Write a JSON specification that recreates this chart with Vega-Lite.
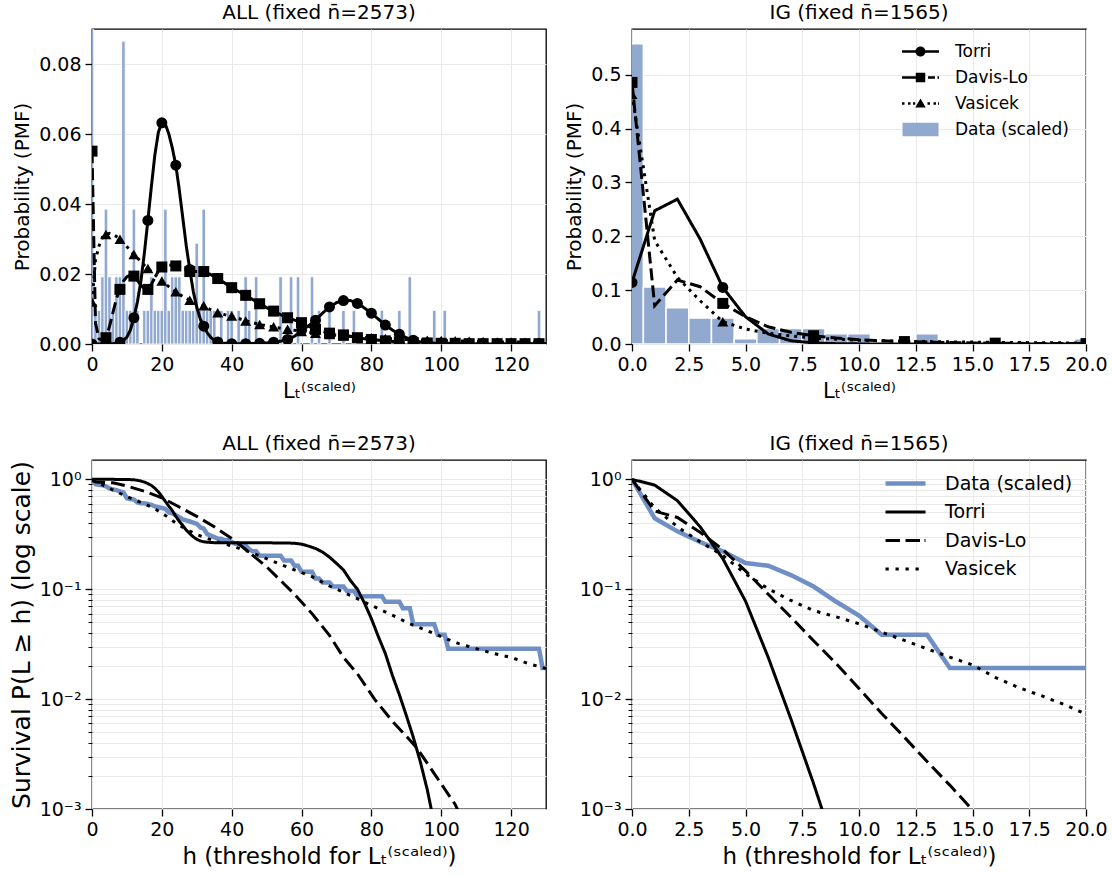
{
"$schema": "https://vega.github.io/schema/vega-lite/v6.json",
"background": "white",
"padding": {"left": 8, "top": 2, "right": 5, "bottom": 5},
"bounds": "flush",
"columns": 2,
"align": "each",
"spacing": {"row": 116, "column": 86},
"config": {
  "font": "DejaVu Sans",
  "view": {"stroke": "black", "strokeWidth": 1.3},
  "axis": {"labelFont": "DejaVu Sans", "labelFontSize": 19, "labelColor": "black", "labelFlush": false, "labelOverlap": false, "titleFont": "DejaVu Sans", "titleFontWeight": "normal", "titleColor": "black", "titleFontSize": 20, "tickColor": "black", "tickSize": 7, "tickWidth": 1.3, "domain": false, "gridColor": "#e9e9e9", "gridWidth": 1, "labelPadding": 4, "titlePadding": 6},
  "title": {"font": "DejaVu Sans", "fontSize": 20, "fontWeight": "normal", "color": "black", "offset": 6},
  "legend": {"labelFont": "DejaVu Sans", "labelColor": "black", "padding": 0, "labelLimit": 400}
},
"resolve": {"scale": {"x": "independent", "y": "independent", "strokeDash": "independent", "shape": "independent", "color": "independent"}, "legend": {"strokeDash": "independent", "shape": "independent", "color": "independent"}},
"datasets": {
  "hist_all": [
    {"L":0,"lo":-0.5,"hi":0.5,"p":0.0962},{"L":1,"lo":0.5,"hi":1.5,"p":0.0096},{"L":2,"lo":1.5,"hi":2.5,"p":0.0096},{"L":3,"lo":2.5,"hi":3.5,"p":0.0192},{"L":4,"lo":3.5,"hi":4.5,"p":0.0385},{"L":5,"lo":4.5,"hi":5.5,"p":0.0192},{"L":6,"lo":5.5,"hi":6.5,"p":0.0096},{"L":7,"lo":6.5,"hi":7.5,"p":0.0192},{"L":8,"lo":7.5,"hi":8.5,"p":0.0192},{"L":9,"lo":8.5,"hi":9.5,"p":0.0865},{"L":10,"lo":9.5,"hi":10.5,"p":0.0096},{"L":11,"lo":10.5,"hi":11.5,"p":0.0096},{"L":12,"lo":11.5,"hi":12.5,"p":0.0385},{"L":13,"lo":12.5,"hi":13.5,"p":0.0096},{"L":15,"lo":14.5,"hi":15.5,"p":0.0096},{"L":16,"lo":15.5,"hi":16.5,"p":0.0096},{"L":17,"lo":16.5,"hi":17.5,"p":0.0192},{"L":18,"lo":17.5,"hi":18.5,"p":0.0096},{"L":19,"lo":18.5,"hi":19.5,"p":0.0096},{"L":20,"lo":19.5,"hi":20.5,"p":0.0096},{"L":21,"lo":20.5,"hi":21.5,"p":0.0385},{"L":22,"lo":21.5,"hi":22.5,"p":0.0096},{"L":23,"lo":22.5,"hi":23.5,"p":0.0192},{"L":24,"lo":23.5,"hi":24.5,"p":0.0192},{"L":25,"lo":24.5,"hi":25.5,"p":0.0192},{"L":26,"lo":25.5,"hi":26.5,"p":0.0096},{"L":27,"lo":26.5,"hi":27.5,"p":0.0096},{"L":28,"lo":27.5,"hi":28.5,"p":0.0096},{"L":29,"lo":28.5,"hi":29.5,"p":0.0096},{"L":30,"lo":29.5,"hi":30.5,"p":0.0288},{"L":31,"lo":30.5,"hi":31.5,"p":0.0096},{"L":32,"lo":31.5,"hi":32.5,"p":0.0385},{"L":33,"lo":32.5,"hi":33.5,"p":0.0096},{"L":34,"lo":33.5,"hi":34.5,"p":0.0096},{"L":35,"lo":34.5,"hi":35.5,"p":0.0096},{"L":37,"lo":36.5,"hi":37.5,"p":0.0096},{"L":39,"lo":38.5,"hi":39.5,"p":0.0096},{"L":40,"lo":39.5,"hi":40.5,"p":0.0096},{"L":42,"lo":41.5,"hi":42.5,"p":0.0096},{"L":44,"lo":43.5,"hi":44.5,"p":0.0192},{"L":45,"lo":44.5,"hi":45.5,"p":0.0096},{"L":47,"lo":46.5,"hi":47.5,"p":0.0192},{"L":54,"lo":53.5,"hi":54.5,"p":0.0192},{"L":57,"lo":56.5,"hi":57.5,"p":0.0192},{"L":59,"lo":58.5,"hi":59.5,"p":0.0192},{"L":63,"lo":62.5,"hi":63.5,"p":0.0192},{"L":65,"lo":64.5,"hi":65.5,"p":0.0096},{"L":68,"lo":67.5,"hi":68.5,"p":0.0096},{"L":72,"lo":71.5,"hi":72.5,"p":0.0096},{"L":75,"lo":74.5,"hi":75.5,"p":0.0096},{"L":83,"lo":82.5,"hi":83.5,"p":0.0096},{"L":88,"lo":87.5,"hi":88.5,"p":0.0096},{"L":91,"lo":90.5,"hi":91.5,"p":0.0192},{"L":98,"lo":97.5,"hi":98.5,"p":0.0096},{"L":101,"lo":100.5,"hi":101.5,"p":0.0096},{"L":128,"lo":127.5,"hi":128.5,"p":0.0096}
  ],
  "hist_ig": [
    {"L":0,"lo":-0.5,"hi":0.5,"p":0.5577},{"L":1,"lo":0.5,"hi":1.5,"p":0.1058},{"L":2,"lo":1.5,"hi":2.5,"p":0.0673},{"L":3,"lo":2.5,"hi":3.5,"p":0.0481},{"L":4,"lo":3.5,"hi":4.5,"p":0.0481},{"L":5,"lo":4.5,"hi":5.5,"p":0.0096},{"L":6,"lo":5.5,"hi":6.5,"p":0.0288},{"L":7,"lo":6.5,"hi":7.5,"p":0.0288},{"L":8,"lo":7.5,"hi":8.5,"p":0.0288},{"L":9,"lo":8.5,"hi":9.5,"p":0.0192},{"L":10,"lo":9.5,"hi":10.5,"p":0.0192},{"L":13,"lo":12.5,"hi":13.5,"p":0.0192},{"L":20,"lo":19.5,"hi":20.5,"p":0.0096}
  ],
  "pmf_all": [
    {"model":"Torri","L":0,"p":0},{"model":"Torri","L":1,"p":0},{"model":"Torri","L":2,"p":0},{"model":"Torri","L":3,"p":0},{"model":"Torri","L":4,"p":0},{"model":"Torri","L":5,"p":0},{"model":"Torri","L":6,"p":0.0001},{"model":"Torri","L":7,"p":0.0002},{"model":"Torri","L":8,"p":0.0005},{"model":"Torri","L":9,"p":0.001},{"model":"Torri","L":10,"p":0.002},{"model":"Torri","L":11,"p":0.004},{"model":"Torri","L":12,"p":0.0075},{"model":"Torri","L":13,"p":0.012},{"model":"Torri","L":14,"p":0.018},{"model":"Torri","L":15,"p":0.026},{"model":"Torri","L":16,"p":0.0353},{"model":"Torri","L":17,"p":0.045},{"model":"Torri","L":18,"p":0.054},{"model":"Torri","L":19,"p":0.0605},{"model":"Torri","L":20,"p":0.0632},{"model":"Torri","L":21,"p":0.0628},{"model":"Torri","L":22,"p":0.06},{"model":"Torri","L":23,"p":0.056},{"model":"Torri","L":24,"p":0.0511},{"model":"Torri","L":25,"p":0.044},{"model":"Torri","L":26,"p":0.036},{"model":"Torri","L":27,"p":0.028},{"model":"Torri","L":28,"p":0.0213},{"model":"Torri","L":29,"p":0.015},{"model":"Torri","L":30,"p":0.0105},{"model":"Torri","L":31,"p":0.0072},{"model":"Torri","L":32,"p":0.0051},{"model":"Torri","L":33,"p":0.0032},{"model":"Torri","L":34,"p":0.0019},{"model":"Torri","L":35,"p":0.0011},{"model":"Torri","L":36,"p":0.0006},{"model":"Torri","L":37,"p":0.0003},{"model":"Torri","L":38,"p":0.0002},{"model":"Torri","L":40,"p":0.0001},{"model":"Torri","L":44,"p":0.0001},{"model":"Torri","L":48,"p":0.0002},{"model":"Torri","L":50,"p":0.0003},{"model":"Torri","L":52,"p":0.0005},{"model":"Torri","L":54,"p":0.0008},{"model":"Torri","L":56,"p":0.0013},{"model":"Torri","L":58,"p":0.0022},{"model":"Torri","L":60,"p":0.0039},{"model":"Torri","L":62,"p":0.0052},{"model":"Torri","L":64,"p":0.0068},{"model":"Torri","L":66,"p":0.0088},{"model":"Torri","L":68,"p":0.0106},{"model":"Torri","L":70,"p":0.0118},{"model":"Torri","L":72,"p":0.0124},{"model":"Torri","L":74,"p":0.0124},{"model":"Torri","L":76,"p":0.0116},{"model":"Torri","L":78,"p":0.0103},{"model":"Torri","L":80,"p":0.0088},{"model":"Torri","L":82,"p":0.0071},{"model":"Torri","L":84,"p":0.0054},{"model":"Torri","L":86,"p":0.004},{"model":"Torri","L":88,"p":0.0028},{"model":"Torri","L":90,"p":0.0018},{"model":"Torri","L":92,"p":0.0011},{"model":"Torri","L":94,"p":0.0006},{"model":"Torri","L":96,"p":0.0003},{"model":"Torri","L":100,"p":0},{"model":"Torri","L":104,"p":0},{"model":"Torri","L":108,"p":0},{"model":"Torri","L":112,"p":0},{"model":"Torri","L":116,"p":0},{"model":"Torri","L":120,"p":0},{"model":"Torri","L":124,"p":0},{"model":"Torri","L":128,"p":0},{"model":"Torri","L":130,"p":0},
    {"model":"Davis-Lo","L":0,"p":0.0551},{"model":"Davis-Lo","L":1,"p":0.006},{"model":"Davis-Lo","L":2,"p":0.0015},{"model":"Davis-Lo","L":3,"p":0.001},{"model":"Davis-Lo","L":4,"p":0.0018},{"model":"Davis-Lo","L":5,"p":0.005},{"model":"Davis-Lo","L":6,"p":0.009},{"model":"Davis-Lo","L":7,"p":0.013},{"model":"Davis-Lo","L":8,"p":0.0156},{"model":"Davis-Lo","L":9,"p":0.018},{"model":"Davis-Lo","L":10,"p":0.0192},{"model":"Davis-Lo","L":11,"p":0.0196},{"model":"Davis-Lo","L":12,"p":0.0194},{"model":"Davis-Lo","L":13,"p":0.0182},{"model":"Davis-Lo","L":14,"p":0.0168},{"model":"Davis-Lo","L":15,"p":0.0158},{"model":"Davis-Lo","L":16,"p":0.0156},{"model":"Davis-Lo","L":17,"p":0.017},{"model":"Davis-Lo","L":18,"p":0.019},{"model":"Davis-Lo","L":19,"p":0.0208},{"model":"Davis-Lo","L":20,"p":0.022},{"model":"Davis-Lo","L":21,"p":0.0225},{"model":"Davis-Lo","L":22,"p":0.0226},{"model":"Davis-Lo","L":23,"p":0.0225},{"model":"Davis-Lo","L":24,"p":0.0223},{"model":"Davis-Lo","L":26,"p":0.0215},{"model":"Davis-Lo","L":28,"p":0.0207},{"model":"Davis-Lo","L":30,"p":0.0207},{"model":"Davis-Lo","L":32,"p":0.0207},{"model":"Davis-Lo","L":34,"p":0.0198},{"model":"Davis-Lo","L":36,"p":0.0187},{"model":"Davis-Lo","L":38,"p":0.0174},{"model":"Davis-Lo","L":40,"p":0.0161},{"model":"Davis-Lo","L":42,"p":0.015},{"model":"Davis-Lo","L":44,"p":0.0139},{"model":"Davis-Lo","L":46,"p":0.0127},{"model":"Davis-Lo","L":48,"p":0.0115},{"model":"Davis-Lo","L":50,"p":0.0104},{"model":"Davis-Lo","L":52,"p":0.0094},{"model":"Davis-Lo","L":54,"p":0.0084},{"model":"Davis-Lo","L":56,"p":0.0075},{"model":"Davis-Lo","L":58,"p":0.0068},{"model":"Davis-Lo","L":60,"p":0.0061},{"model":"Davis-Lo","L":62,"p":0.0051},{"model":"Davis-Lo","L":64,"p":0.0042},{"model":"Davis-Lo","L":66,"p":0.0036},{"model":"Davis-Lo","L":68,"p":0.0031},{"model":"Davis-Lo","L":70,"p":0.0028},{"model":"Davis-Lo","L":72,"p":0.0026},{"model":"Davis-Lo","L":74,"p":0.0022},{"model":"Davis-Lo","L":76,"p":0.0018},{"model":"Davis-Lo","L":78,"p":0.0015},{"model":"Davis-Lo","L":80,"p":0.0013},{"model":"Davis-Lo","L":84,"p":0.0009},{"model":"Davis-Lo","L":88,"p":0.0006},{"model":"Davis-Lo","L":92,"p":0.0004},{"model":"Davis-Lo","L":96,"p":0.0003},{"model":"Davis-Lo","L":100,"p":0.0002},{"model":"Davis-Lo","L":104,"p":0.0002},{"model":"Davis-Lo","L":108,"p":0.0001},{"model":"Davis-Lo","L":112,"p":0.0001},{"model":"Davis-Lo","L":116,"p":0.0001},{"model":"Davis-Lo","L":120,"p":0.0001},{"model":"Davis-Lo","L":124,"p":0.0001},{"model":"Davis-Lo","L":128,"p":0.0001},{"model":"Davis-Lo","L":130,"p":0.0001},
    {"model":"Vasicek","L":0,"p":0.012},{"model":"Vasicek","L":1,"p":0.024},{"model":"Vasicek","L":2,"p":0.028},{"model":"Vasicek","L":3,"p":0.0305},{"model":"Vasicek","L":4,"p":0.0313},{"model":"Vasicek","L":5,"p":0.0316},{"model":"Vasicek","L":6,"p":0.0313},{"model":"Vasicek","L":7,"p":0.0307},{"model":"Vasicek","L":8,"p":0.0299},{"model":"Vasicek","L":9,"p":0.0289},{"model":"Vasicek","L":10,"p":0.0278},{"model":"Vasicek","L":11,"p":0.0267},{"model":"Vasicek","L":12,"p":0.0256},{"model":"Vasicek","L":13,"p":0.0246},{"model":"Vasicek","L":14,"p":0.0235},{"model":"Vasicek","L":15,"p":0.0225},{"model":"Vasicek","L":16,"p":0.0216},{"model":"Vasicek","L":18,"p":0.0198},{"model":"Vasicek","L":20,"p":0.018},{"model":"Vasicek","L":22,"p":0.0164},{"model":"Vasicek","L":24,"p":0.0149},{"model":"Vasicek","L":26,"p":0.0136},{"model":"Vasicek","L":28,"p":0.0125},{"model":"Vasicek","L":30,"p":0.0116},{"model":"Vasicek","L":32,"p":0.0109},{"model":"Vasicek","L":34,"p":0.0098},{"model":"Vasicek","L":36,"p":0.0089},{"model":"Vasicek","L":38,"p":0.0084},{"model":"Vasicek","L":40,"p":0.008},{"model":"Vasicek","L":42,"p":0.0073},{"model":"Vasicek","L":44,"p":0.0066},{"model":"Vasicek","L":46,"p":0.0061},{"model":"Vasicek","L":48,"p":0.0056},{"model":"Vasicek","L":50,"p":0.0052},{"model":"Vasicek","L":52,"p":0.0049},{"model":"Vasicek","L":54,"p":0.0045},{"model":"Vasicek","L":56,"p":0.0042},{"model":"Vasicek","L":58,"p":0.0039},{"model":"Vasicek","L":60,"p":0.0036},{"model":"Vasicek","L":64,"p":0.0031},{"model":"Vasicek","L":68,"p":0.0027},{"model":"Vasicek","L":72,"p":0.0023},{"model":"Vasicek","L":76,"p":0.002},{"model":"Vasicek","L":80,"p":0.0018},{"model":"Vasicek","L":84,"p":0.0016},{"model":"Vasicek","L":88,"p":0.0014},{"model":"Vasicek","L":92,"p":0.0012},{"model":"Vasicek","L":96,"p":0.0011},{"model":"Vasicek","L":100,"p":0.001},{"model":"Vasicek","L":104,"p":0.0009},{"model":"Vasicek","L":108,"p":0.0008},{"model":"Vasicek","L":112,"p":0.0007},{"model":"Vasicek","L":116,"p":0.0006},{"model":"Vasicek","L":120,"p":0.0006},{"model":"Vasicek","L":124,"p":0.0005},{"model":"Vasicek","L":128,"p":0.0005},{"model":"Vasicek","L":130,"p":0.0005}
  ],
  "pmf_ig": [
    {"model":"Torri","L":0,"p":0.1144},{"model":"Torri","L":1,"p":0.2475},{"model":"Torri","L":2,"p":0.269},{"model":"Torri","L":3,"p":0.195},{"model":"Torri","L":4,"p":0.105},{"model":"Torri","L":5,"p":0.0507},{"model":"Torri","L":6,"p":0.0186},{"model":"Torri","L":7,"p":0.006},{"model":"Torri","L":8,"p":0.002},{"model":"Torri","L":9,"p":0.0006},{"model":"Torri","L":10,"p":0.0002},{"model":"Torri","L":11,"p":0},{"model":"Torri","L":12,"p":0},{"model":"Torri","L":13,"p":0},{"model":"Torri","L":14,"p":0},{"model":"Torri","L":15,"p":0},{"model":"Torri","L":16,"p":0},{"model":"Torri","L":17,"p":0},{"model":"Torri","L":18,"p":0},{"model":"Torri","L":19,"p":0},{"model":"Torri","L":20,"p":0},
    {"model":"Davis-Lo","L":0,"p":0.4858},{"model":"Davis-Lo","L":1,"p":0.0711},{"model":"Davis-Lo","L":2,"p":0.1188},{"model":"Davis-Lo","L":3,"p":0.1064},{"model":"Davis-Lo","L":4,"p":0.0754},{"model":"Davis-Lo","L":5,"p":0.0507},{"model":"Davis-Lo","L":6,"p":0.032},{"model":"Davis-Lo","L":7,"p":0.0217},{"model":"Davis-Lo","L":8,"p":0.0154},{"model":"Davis-Lo","L":9,"p":0.011},{"model":"Davis-Lo","L":10,"p":0.008},{"model":"Davis-Lo","L":11,"p":0.006},{"model":"Davis-Lo","L":12,"p":0.0045},{"model":"Davis-Lo","L":13,"p":0.0035},{"model":"Davis-Lo","L":14,"p":0.0027},{"model":"Davis-Lo","L":15,"p":0.002},{"model":"Davis-Lo","L":16,"p":0.0016},{"model":"Davis-Lo","L":17,"p":0.0013},{"model":"Davis-Lo","L":18,"p":0.001},{"model":"Davis-Lo","L":19,"p":0.0008},{"model":"Davis-Lo","L":20,"p":0.0007},
    {"model":"Vasicek","L":0,"p":0.464},{"model":"Vasicek","L":1,"p":0.192},{"model":"Vasicek","L":2,"p":0.1237},{"model":"Vasicek","L":3,"p":0.0804},{"model":"Vasicek","L":4,"p":0.0414},{"model":"Vasicek","L":5,"p":0.0278},{"model":"Vasicek","L":6,"p":0.02},{"model":"Vasicek","L":7,"p":0.015},{"model":"Vasicek","L":8,"p":0.011},{"model":"Vasicek","L":9,"p":0.009},{"model":"Vasicek","L":10,"p":0.007},{"model":"Vasicek","L":11,"p":0.006},{"model":"Vasicek","L":12,"p":0.005},{"model":"Vasicek","L":13,"p":0.0045},{"model":"Vasicek","L":14,"p":0.004},{"model":"Vasicek","L":15,"p":0.0035},{"model":"Vasicek","L":16,"p":0.003},{"model":"Vasicek","L":17,"p":0.0027},{"model":"Vasicek","L":18,"p":0.0024},{"model":"Vasicek","L":19,"p":0.0021},{"model":"Vasicek","L":20,"p":0.0019}
  ],
  "surv_all_data": [
    {"h":0,"S":1},{"h":1,"S":0.9038},{"h":2,"S":0.8942},{"h":3,"S":0.8846},{"h":4,"S":0.8654},{"h":5,"S":0.8269},{"h":6,"S":0.8077},{"h":7,"S":0.7981},{"h":8,"S":0.7788},{"h":9,"S":0.7596},{"h":10,"S":0.6731},{"h":11,"S":0.6635},{"h":12,"S":0.6538},{"h":13,"S":0.6154},{"h":14,"S":0.6058},{"h":15,"S":0.6058},{"h":16,"S":0.5962},{"h":17,"S":0.5865},{"h":18,"S":0.5673},{"h":19,"S":0.5577},{"h":20,"S":0.5481},{"h":21,"S":0.5385},{"h":22,"S":0.5},{"h":23,"S":0.4904},{"h":24,"S":0.4712},{"h":25,"S":0.4519},{"h":26,"S":0.4327},{"h":27,"S":0.4231},{"h":28,"S":0.4135},{"h":29,"S":0.4038},{"h":30,"S":0.3942},{"h":31,"S":0.3654},{"h":32,"S":0.3558},{"h":33,"S":0.3173},{"h":34,"S":0.3077},{"h":35,"S":0.2981},{"h":36,"S":0.2885},{"h":37,"S":0.2885},{"h":38,"S":0.2788},{"h":39,"S":0.2788},{"h":40,"S":0.2692},{"h":41,"S":0.2596},{"h":42,"S":0.2596},{"h":43,"S":0.25},{"h":44,"S":0.25},{"h":45,"S":0.2308},{"h":46,"S":0.2212},{"h":47,"S":0.2212},{"h":48,"S":0.2019},{"h":54,"S":0.2019},{"h":55,"S":0.1827},{"h":57,"S":0.1827},{"h":58,"S":0.1635},{"h":59,"S":0.1635},{"h":60,"S":0.1442},{"h":63,"S":0.1442},{"h":64,"S":0.125},{"h":65,"S":0.125},{"h":66,"S":0.1154},{"h":68,"S":0.1154},{"h":69,"S":0.1058},{"h":72,"S":0.1058},{"h":73,"S":0.0962},{"h":75,"S":0.0962},{"h":76,"S":0.0865},{"h":83,"S":0.0865},{"h":84,"S":0.0769},{"h":88,"S":0.0769},{"h":89,"S":0.0673},{"h":91,"S":0.0673},{"h":92,"S":0.0481},{"h":98,"S":0.0481},{"h":99,"S":0.0385},{"h":101,"S":0.0385},{"h":102,"S":0.0288},{"h":128,"S":0.0288},{"h":129,"S":0.0192},{"h":130,"S":0.0192}
  ],
  "surv_all_models": [
    {"model":"Torri","h":0,"S":1},{"model":"Torri","h":5,"S":1},{"model":"Torri","h":10,"S":0.998},{"model":"Torri","h":12,"S":0.99},{"model":"Torri","h":13,"S":0.98},{"model":"Torri","h":14,"S":0.965},{"model":"Torri","h":15,"S":0.945},{"model":"Torri","h":16,"S":0.915},{"model":"Torri","h":17,"S":0.88},{"model":"Torri","h":18,"S":0.83},{"model":"Torri","h":19,"S":0.77},{"model":"Torri","h":20,"S":0.7},{"model":"Torri","h":21,"S":0.63},{"model":"Torri","h":22,"S":0.57},{"model":"Torri","h":23,"S":0.52},{"model":"Torri","h":24,"S":0.46},{"model":"Torri","h":25,"S":0.415},{"model":"Torri","h":26,"S":0.38},{"model":"Torri","h":27,"S":0.345},{"model":"Torri","h":28,"S":0.32},{"model":"Torri","h":29,"S":0.3},{"model":"Torri","h":30,"S":0.285},{"model":"Torri","h":31,"S":0.275},{"model":"Torri","h":32,"S":0.27},{"model":"Torri","h":34,"S":0.266},{"model":"Torri","h":36,"S":0.265},{"model":"Torri","h":55,"S":0.264},{"model":"Torri","h":58,"S":0.262},{"model":"Torri","h":60,"S":0.257},{"model":"Torri","h":62,"S":0.247},{"model":"Torri","h":64,"S":0.235},{"model":"Torri","h":66,"S":0.218},{"model":"Torri","h":68,"S":0.196},{"model":"Torri","h":70,"S":0.172},{"model":"Torri","h":72,"S":0.15},{"model":"Torri","h":74,"S":0.12},{"model":"Torri","h":76,"S":0.1},{"model":"Torri","h":78,"S":0.075},{"model":"Torri","h":80,"S":0.054},{"model":"Torri","h":82,"S":0.037},{"model":"Torri","h":84,"S":0.026},{"model":"Torri","h":86,"S":0.0165},{"model":"Torri","h":88,"S":0.011},{"model":"Torri","h":90,"S":0.0071},{"model":"Torri","h":92,"S":0.0045},{"model":"Torri","h":94,"S":0.0027},{"model":"Torri","h":96,"S":0.0015},{"model":"Torri","h":97,"S":0.00105},{"model":"Torri","h":98,"S":0.0007},{"model":"Torri","h":100,"S":0.0003},
    {"model":"Davis-Lo","h":0,"S":1},{"model":"Davis-Lo","h":1,"S":0.945},{"model":"Davis-Lo","h":6,"S":0.93},{"model":"Davis-Lo","h":10,"S":0.87},{"model":"Davis-Lo","h":15,"S":0.78},{"model":"Davis-Lo","h":20,"S":0.68},{"model":"Davis-Lo","h":25,"S":0.56},{"model":"Davis-Lo","h":30,"S":0.46},{"model":"Davis-Lo","h":35,"S":0.37},{"model":"Davis-Lo","h":40,"S":0.29},{"model":"Davis-Lo","h":44,"S":0.23},{"model":"Davis-Lo","h":50,"S":0.16},{"model":"Davis-Lo","h":54,"S":0.12},{"model":"Davis-Lo","h":58,"S":0.09},{"model":"Davis-Lo","h":63,"S":0.06},{"model":"Davis-Lo","h":68,"S":0.038},{"model":"Davis-Lo","h":72,"S":0.024},{"model":"Davis-Lo","h":76,"S":0.017},{"model":"Davis-Lo","h":81,"S":0.0099},{"model":"Davis-Lo","h":86,"S":0.0063},{"model":"Davis-Lo","h":90,"S":0.0046},{"model":"Davis-Lo","h":93,"S":0.0036},{"model":"Davis-Lo","h":98,"S":0.0021},{"model":"Davis-Lo","h":104,"S":0.0011},{"model":"Davis-Lo","h":106,"S":0.0008},
    {"model":"Vasicek","h":0,"S":0.98},{"model":"Vasicek","h":3,"S":0.89},{"model":"Vasicek","h":6,"S":0.8},{"model":"Vasicek","h":9,"S":0.72},{"model":"Vasicek","h":12,"S":0.655},{"model":"Vasicek","h":15,"S":0.6},{"model":"Vasicek","h":18,"S":0.54},{"model":"Vasicek","h":21,"S":0.47},{"model":"Vasicek","h":24,"S":0.4},{"model":"Vasicek","h":27,"S":0.35},{"model":"Vasicek","h":30,"S":0.315},{"model":"Vasicek","h":33,"S":0.29},{"model":"Vasicek","h":36,"S":0.27},{"model":"Vasicek","h":40,"S":0.248},{"model":"Vasicek","h":44,"S":0.225},{"model":"Vasicek","h":50,"S":0.19},{"model":"Vasicek","h":54,"S":0.168},{"model":"Vasicek","h":58,"S":0.15},{"model":"Vasicek","h":63,"S":0.13},{"model":"Vasicek","h":68,"S":0.107},{"model":"Vasicek","h":72,"S":0.094},{"model":"Vasicek","h":76,"S":0.082},{"model":"Vasicek","h":81,"S":0.069},{"model":"Vasicek","h":86,"S":0.058},{"model":"Vasicek","h":91,"S":0.0485},{"model":"Vasicek","h":96,"S":0.042},{"model":"Vasicek","h":100,"S":0.037},{"model":"Vasicek","h":105,"S":0.032},{"model":"Vasicek","h":110,"S":0.0288},{"model":"Vasicek","h":115,"S":0.026},{"model":"Vasicek","h":120,"S":0.024},{"model":"Vasicek","h":125,"S":0.021},{"model":"Vasicek","h":130,"S":0.019}
  ],
  "surv_ig_data": [
    {"h":0,"S":1},{"h":1,"S":0.4423},{"h":2,"S":0.3365},{"h":3,"S":0.2692},{"h":4,"S":0.2212},{"h":5,"S":0.1731},{"h":6,"S":0.1635},{"h":7,"S":0.1346},{"h":8,"S":0.1058},{"h":9,"S":0.0769},{"h":10,"S":0.0577},{"h":11,"S":0.0385},{"h":13,"S":0.0385},{"h":14,"S":0.0192},{"h":20,"S":0.0192}
  ],
  "surv_ig_models": [
    {"model":"Torri","h":0,"S":1},{"model":"Torri","h":1,"S":0.886},{"model":"Torri","h":2,"S":0.64},{"model":"Torri","h":3,"S":0.37},{"model":"Torri","h":4,"S":0.19},{"model":"Torri","h":5,"S":0.078},{"model":"Torri","h":6,"S":0.024},{"model":"Torri","h":7,"S":0.0066},{"model":"Torri","h":8,"S":0.0017},{"model":"Torri","h":9,"S":0.0004},
    {"model":"Davis-Lo","h":0,"S":1},{"model":"Davis-Lo","h":1,"S":0.514},{"model":"Davis-Lo","h":2,"S":0.45},{"model":"Davis-Lo","h":3,"S":0.33},{"model":"Davis-Lo","h":4,"S":0.23},{"model":"Davis-Lo","h":5,"S":0.147},{"model":"Davis-Lo","h":6,"S":0.09},{"model":"Davis-Lo","h":7,"S":0.0557},{"model":"Davis-Lo","h":8,"S":0.034},{"model":"Davis-Lo","h":9,"S":0.021},{"model":"Davis-Lo","h":10,"S":0.0125},{"model":"Davis-Lo","h":11,"S":0.0074},{"model":"Davis-Lo","h":12,"S":0.0045},{"model":"Davis-Lo","h":13,"S":0.0027},{"model":"Davis-Lo","h":14,"S":0.00165},{"model":"Davis-Lo","h":15,"S":0.00098},{"model":"Davis-Lo","h":16,"S":0.0006},
    {"model":"Vasicek","h":0,"S":1},{"model":"Vasicek","h":1,"S":0.55},{"model":"Vasicek","h":2,"S":0.37},{"model":"Vasicek","h":3,"S":0.27},{"model":"Vasicek","h":4,"S":0.203},{"model":"Vasicek","h":5,"S":0.138},{"model":"Vasicek","h":6,"S":0.101},{"model":"Vasicek","h":7,"S":0.079},{"model":"Vasicek","h":8,"S":0.064},{"model":"Vasicek","h":9,"S":0.056},{"model":"Vasicek","h":10,"S":0.0485},{"model":"Vasicek","h":11,"S":0.0407},{"model":"Vasicek","h":12,"S":0.0342},{"model":"Vasicek","h":13,"S":0.0287},{"model":"Vasicek","h":14,"S":0.0241},{"model":"Vasicek","h":15,"S":0.0205},{"model":"Vasicek","h":16,"S":0.0158},{"model":"Vasicek","h":17,"S":0.0128},{"model":"Vasicek","h":18,"S":0.0108},{"model":"Vasicek","h":19,"S":0.009},{"model":"Vasicek","h":20,"S":0.0073}
  ]
},
"concat": [
  {
    "width": 454, "height": 315,
    "title": "ALL (fixed n\u0304=2573)",
    "layer": [
      {"data": {"name": "hist_all"},
       "mark": {"type": "bar", "clip": true, "fill": "#92A9CF", "stroke": "white", "strokeWidth": 0.8},
       "encoding": {
         "x": {"field": "lo", "type": "quantitative", "title": "Lₜ⁽ˢᶜᵃˡᵉᵈ⁾", "scale": {"domain": [0, 130], "nice": false, "zero": false, "padding": 0}, "axis": {"values": [0,20,40,60,80,100,120], "grid": true, "titleFontSize": 21, "titlePadding": 6}},
         "x2": {"field": "hi"},
         "y": {"field": "p", "type": "quantitative", "title": "Probability (PMF)", "scale": {"domain": [0, 0.09], "nice": false, "padding": 0}, "axis": {"values": [0,0.02,0.04,0.06,0.08], "format": ".2f", "grid": true}},
         "y2": {"datum": 0}
       }},
      {"data": {"name": "pmf_all"},
       "mark": {"type": "line", "clip": true, "color": "black", "strokeWidth": 3},
       "encoding": {
         "x": {"field": "L", "type": "quantitative", "title": "Lₜ⁽ˢᶜᵃˡᵉᵈ⁾"},
         "y": {"field": "p", "type": "quantitative", "title": "Probability (PMF)"},
         "strokeDash": {"field": "model", "type": "nominal", "scale": {"domain": ["Torri","Davis-Lo","Vasicek"], "range": [[1,0],[12,5],[3,5]]}, "legend": null}
       }},
      {"data": {"name": "pmf_all"},
       "transform": [{"filter": "datum.L % 4 == 0"}],
       "mark": {"type": "point", "clip": true, "filled": true, "color": "black", "opacity": 1, "size": 121},
       "encoding": {
         "x": {"field": "L", "type": "quantitative", "title": "Lₜ⁽ˢᶜᵃˡᵉᵈ⁾"},
         "y": {"field": "p", "type": "quantitative", "title": "Probability (PMF)"},
         "shape": {"field": "model", "type": "nominal", "scale": {"domain": ["Torri","Davis-Lo","Vasicek"], "range": ["circle","square","triangle-up"]}, "legend": null}
       }}
    ]
  },
  {
    "width": 454, "height": 315,
    "title": "IG (fixed n\u0304=1565)",
    "resolve": {"scale": {"shape": "independent", "color": "independent"}, "legend": {"shape": "independent"}},
    "layer": [
      {"data": {"name": "hist_ig"},
       "mark": {"type": "bar", "clip": true, "fill": "#92A9CF", "stroke": "white", "strokeWidth": 1.5},
       "encoding": {
         "x": {"field": "lo", "type": "quantitative", "title": "Lₜ⁽ˢᶜᵃˡᵉᵈ⁾", "scale": {"domain": [0, 20], "nice": false, "zero": false, "padding": 0}, "axis": {"values": [0,2.5,5,7.5,10,12.5,15,17.5,20], "format": ".1f", "grid": true, "titleFontSize": 21, "titlePadding": 6}},
         "x2": {"field": "hi"},
         "y": {"field": "p", "type": "quantitative", "title": "Probability (PMF)", "scale": {"domain": [0, 0.585], "nice": false, "padding": 0}, "axis": {"values": [0,0.1,0.2,0.3,0.4,0.5], "format": ".1f", "grid": true}},
         "y2": {"datum": 0}
       }},
      {"data": {"name": "pmf_ig"},
       "mark": {"type": "line", "clip": true, "color": "black", "strokeWidth": 3},
       "encoding": {
         "x": {"field": "L", "type": "quantitative", "title": "Lₜ⁽ˢᶜᵃˡᵉᵈ⁾"},
         "y": {"field": "p", "type": "quantitative", "title": "Probability (PMF)"},
         "strokeDash": {"field": "model", "type": "nominal", "scale": {"domain": ["Torri","Davis-Lo","Vasicek"], "range": [[1,0],[12,5],[3,5]]}, "legend": null}
       }},
      {"data": {"name": "pmf_ig"},
       "transform": [{"filter": "datum.L % 4 == 0"}],
       "mark": {"type": "point", "clip": true, "filled": true, "color": "black", "opacity": 1, "size": 121},
       "encoding": {
         "x": {"field": "L", "type": "quantitative", "title": "Lₜ⁽ˢᶜᵃˡᵉᵈ⁾"},
         "y": {"field": "p", "type": "quantitative", "title": "Probability (PMF)"},
         "shape": {"field": "model", "type": "nominal", "scale": {"domain": ["Torri","Davis-Lo","Vasicek"], "range": ["circle","square","triangle-up"]}, "legend": null}
       }},
      {"data": {"name": "pmf_ig"},
       "mark": {"type": "point", "filled": true, "opacity": 0, "size": 1},
       "encoding": {
         "x": {"field": "L", "type": "quantitative", "title": "Lₜ⁽ˢᶜᵃˡᵉᵈ⁾"},
         "y": {"field": "p", "type": "quantitative", "title": "Probability (PMF)"},
         "shape": {"field": "model", "type": "nominal",
           "scale": {"domain": ["Torri","Davis-Lo","Vasicek","Data (scaled)"], "range": [
             "M-3.7,-0.25H-0.95V0.25H-3.7Z M0.95,-0.25H3.7V0.25H0.95Z M1,0A1,1,0,1,1,-1,0A1,1,0,1,1,1,0Z",
             "M-3.7,-0.25H-0.95V0.25H-3.7Z M-0.95,-0.95H0.95V0.95H-0.95Z M1.5,-0.25H2.9V0.25H1.5Z M3.4,-0.25H3.7V0.25H3.4Z",
             "M-3.7,-0.25H-3.2V0.25H-3.7Z M-2.5,-0.25H-2V0.25H-2.5Z M-1.5,-0.25H-1.05V0.25H-1.5Z M0,-1L1.05,0.8H-1.05Z M1.4,-0.25H1.9V0.25H1.4Z M2.6,-0.25H3.1V0.25H2.6Z M3.5,-0.25H3.7V0.25H3.5Z",
             "M-3.6,-1.35H3.6V1.35H-3.6Z"]},
           "legend": {"title": null, "orient": "none", "legendX": 280, "legendY": 14, "labelFontSize": 17, "symbolSize": 100, "symbolStrokeWidth": 0, "symbolOpacity": 1, "labelOffset": 26, "rowPadding": 8}},
         "color": {"field": "model", "type": "nominal",
           "scale": {"domain": ["Torri","Davis-Lo","Vasicek","Data (scaled)"], "range": ["black","black","black","#92A9CF"]},
           "legend": {"title": null, "orient": "none", "legendX": 280, "legendY": 14, "labelFontSize": 17, "symbolSize": 100, "symbolStrokeWidth": 0, "symbolOpacity": 1, "labelOffset": 26, "rowPadding": 8}}
       }}
    ]
  },
  {
    "width": 454, "height": 349,
    "title": "ALL (fixed n\u0304=2573)",
    "layer": [
      {"data": {"name": "surv_all_data"},
       "mark": {"type": "line", "clip": true, "color": "#7090C5", "strokeWidth": 4.5},
       "encoding": {
         "x": {"field": "h", "type": "quantitative", "title": "h (threshold for Lₜ⁽ˢᶜᵃˡᵉᵈ⁾)", "scale": {"domain": [0, 130], "nice": false, "zero": false}, "axis": {"values": [0,20,40,60,80,100,120], "grid": true, "titleFontSize": 23}},
         "y": {"field": "S", "type": "quantitative", "title": "Survival P(L ≥ h) (log scale)", "scale": {"type": "log", "domain": [0.001, 1.5], "nice": false}, "axis": {"values": [0.001,0.002,0.003,0.004,0.005,0.006,0.007,0.008,0.009,0.01,0.02,0.03,0.04,0.05,0.06,0.07,0.08,0.09,0.1,0.2,0.3,0.4,0.5,0.6,0.7,0.8,0.9,1], "labelExpr": "datum.value == 1 ? '10⁰' : datum.value == 0.1 ? '10⁻¹' : datum.value == 0.01 ? '10⁻²' : datum.value == 0.001 ? '10⁻³' : ''", "grid": true, "titleFontSize": 25, "titlePadding": 5, "tickSize": {"condition": {"test": "datum.value == 1 || datum.value == 0.1 || datum.value == 0.01 || datum.value == 0.001", "value": 7}, "value": 4}, "tickWidth": {"condition": {"test": "datum.value == 1 || datum.value == 0.1 || datum.value == 0.01 || datum.value == 0.001", "value": 1.3}, "value": 1}}}
       }},
      {"data": {"name": "surv_all_models"},
       "mark": {"type": "line", "clip": true, "color": "black", "strokeWidth": 3},
       "encoding": {
         "x": {"field": "h", "type": "quantitative", "title": "h (threshold for Lₜ⁽ˢᶜᵃˡᵉᵈ⁾)"},
         "y": {"field": "S", "type": "quantitative", "title": "Survival P(L ≥ h) (log scale)"},
         "strokeDash": {"field": "model", "type": "nominal", "scale": {"domain": ["Torri","Davis-Lo","Vasicek"], "range": [[1,0],[14,6],[3.5,6.5]]}, "legend": null}
       }}
    ]
  },
  {
    "width": 454, "height": 349,
    "title": "IG (fixed n\u0304=1565)",
    "resolve": {"scale": {"shape": "independent", "color": "independent"}},
    "layer": [
      {"data": {"name": "surv_ig_data"},
       "mark": {"type": "line", "clip": true, "color": "#7090C5", "strokeWidth": 4.5},
       "encoding": {
         "x": {"field": "h", "type": "quantitative", "title": "h (threshold for Lₜ⁽ˢᶜᵃˡᵉᵈ⁾)", "scale": {"domain": [0, 20], "nice": false, "zero": false}, "axis": {"values": [0,2.5,5,7.5,10,12.5,15,17.5,20], "format": ".1f", "grid": true, "titleFontSize": 23}},
         "y": {"field": "S", "type": "quantitative", "title": null, "scale": {"type": "log", "domain": [0.001, 1.5], "nice": false}, "axis": {"values": [0.001,0.002,0.003,0.004,0.005,0.006,0.007,0.008,0.009,0.01,0.02,0.03,0.04,0.05,0.06,0.07,0.08,0.09,0.1,0.2,0.3,0.4,0.5,0.6,0.7,0.8,0.9,1], "labelExpr": "datum.value == 1 ? '10⁰' : datum.value == 0.1 ? '10⁻¹' : datum.value == 0.01 ? '10⁻²' : datum.value == 0.001 ? '10⁻³' : ''", "grid": true, "tickSize": {"condition": {"test": "datum.value == 1 || datum.value == 0.1 || datum.value == 0.01 || datum.value == 0.001", "value": 7}, "value": 4}, "tickWidth": {"condition": {"test": "datum.value == 1 || datum.value == 0.1 || datum.value == 0.01 || datum.value == 0.001", "value": 1.3}, "value": 1}}}
       }},
      {"data": {"name": "surv_ig_models"},
       "mark": {"type": "line", "clip": true, "color": "black", "strokeWidth": 3},
       "encoding": {
         "x": {"field": "h", "type": "quantitative", "title": "h (threshold for Lₜ⁽ˢᶜᵃˡᵉᵈ⁾)"},
         "y": {"field": "S", "type": "quantitative", "title": null},
         "strokeDash": {"field": "model", "type": "nominal", "scale": {"domain": ["Torri","Davis-Lo","Vasicek"], "range": [[1,0],[14,6],[3.5,6.5]]}, "legend": null}
       }},
      {"data": {"name": "surv_ig_models"},
       "mark": {"type": "point", "filled": true, "opacity": 0, "size": 1},
       "encoding": {
         "x": {"field": "h", "type": "quantitative", "title": "h (threshold for Lₜ⁽ˢᶜᵃˡᵉᵈ⁾)"},
         "y": {"field": "S", "type": "quantitative", "title": null},
         "shape": {"field": "model", "type": "nominal",
           "scale": {"domain": ["Data (scaled)","Torri","Davis-Lo","Vasicek"], "range": [
             "M-4,-0.45H4V0.45H-4Z",
             "M-4,-0.3H4V0.3H-4Z",
             "M-4,-0.3H-1.1V0.3H-4Z M0,-0.3H2.9V0.3H0Z M3.8,-0.3H4V0.3H3.8Z",
             "M-4,-0.3H-3.35V0.3H-4Z M-2,-0.3H-1.35V0.3H-2Z M0,-0.3H0.65V0.3H0Z M2,-0.3H2.65V0.3H2Z"]},
           "legend": {"title": null, "orient": "none", "legendX": 264, "legendY": 14, "labelFontSize": 19, "symbolSize": 100, "symbolStrokeWidth": 0, "symbolOpacity": 1, "labelOffset": 30, "rowPadding": 8.5}},
         "color": {"field": "model", "type": "nominal",
           "scale": {"domain": ["Data (scaled)","Torri","Davis-Lo","Vasicek"], "range": ["#7090C5","black","black","black"]},
           "legend": {"title": null, "orient": "none", "legendX": 264, "legendY": 14, "labelFontSize": 19, "symbolSize": 100, "symbolStrokeWidth": 0, "symbolOpacity": 1, "labelOffset": 30, "rowPadding": 8.5}}
       }}
    ]
  }
]
}
